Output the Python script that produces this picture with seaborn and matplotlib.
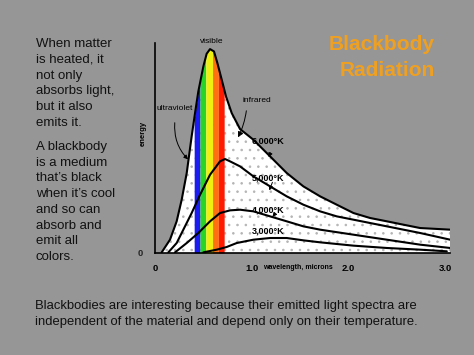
import numpy as np
import pandas as pd
import matplotlib
matplotlib.use("Agg")
import matplotlib.pyplot as plt
import seaborn as sns

# ---------------- data ----------------
temps = ["6,000°K", "5,000°K", "4,000°K", "3,000°K"]

wl_6000 = [0.069, 0.155, 0.224, 0.276, 0.328, 0.379, 0.414, 0.448, 0.500, 0.534, 0.569, 0.610,
           0.645, 0.690, 0.734, 0.793, 0.879, 1.017, 1.190, 1.362, 1.534, 1.707, 1.879, 2.052,
           2.224, 2.397, 2.569, 2.741, 3.052]
en_6000 = [0.013, 0.268, 0.638, 1.074, 1.611, 2.349, 2.819, 3.255, 3.758, 4.013, 4.107, 4.060,
           3.826, 3.490, 3.154, 2.819, 2.497, 2.282, 1.946, 1.611, 1.342, 1.141, 0.973, 0.805,
           0.705, 0.638, 0.570, 0.503, 0.470]

wl_5000 = [0.138, 0.224, 0.293, 0.379, 0.466, 0.569, 0.672, 0.724, 0.776, 0.879, 1.017, 1.190,
           1.362, 1.534, 1.707, 1.879, 2.052, 2.224, 2.397, 2.569, 2.741, 3.052]
en_5000 = [0.013, 0.201, 0.470, 0.805, 1.174, 1.577, 1.846, 1.893, 1.846, 1.745, 1.544, 1.342,
           1.141, 0.973, 0.839, 0.738, 0.671, 0.604, 0.537, 0.470, 0.403, 0.268]

wl_4000 = [0.207, 0.328, 0.448, 0.569, 0.672, 0.776, 0.879, 1.017, 1.190, 1.362, 1.534, 1.707,
           2.052, 2.397, 2.741, 3.052]
en_4000 = [0.013, 0.201, 0.403, 0.638, 0.805, 0.859, 0.872, 0.839, 0.738, 0.638, 0.537, 0.470,
           0.369, 0.268, 0.168, 0.101]

wl_3000 = [0.500, 0.638, 0.741, 0.845, 1.017, 1.190, 1.362, 1.534, 1.707, 2.052, 2.397, 2.741, 3.017]
en_3000 = [0.013, 0.067, 0.121, 0.201, 0.268, 0.302, 0.302, 0.255, 0.215, 0.148, 0.101, 0.067, 0.034]

# visible bands (wavelength edges, colours)
band_edges = [0.405, 0.465, 0.525, 0.595, 0.655, 0.715]
band_colors = ["#1c1cf0", "#28d428", "#f0f010", "#ff7010", "#ff1a00"]

x_ticks = [0, 1, 2, 3]
x_ticklabels = ["0", "1.0", "2.0", "3.0"]

para1 = ["When matter", "is heated, it", "not only", "absorbs light,", "but it also", "emits it."]
para2 = ["A blackbody", "is a medium", "that\u2019s black", "when it\u2019s cool",
         "and so can", "absorb and", "emit all", "colors."]
bottom_lines = ["Blackbodies are interesting because their emitted light spectra are",
                "independent of the material and depend only on their temperature."]

# ---------------- build figure ----------------
sns.set_style("white")
plt.rcParams["font.family"] = ["Liberation Sans", "DejaVu Sans"]
plt.rcParams["hatch.linewidth"] = 0.6
bold = dict(family="Liberation Sans", fontweight="bold")

W, H = 474, 355
fig = plt.figure(figsize=(W / 100, H / 100), dpi=100)
bg = "#969696"
fig.patch.set_facecolor(bg)

ax = fig.add_axes([155 / W, 1 - 253 / H, 295 / W, 210 / H])
ax.set_facecolor("none")

df = pd.concat([
    pd.DataFrame({"wavelength": wl_6000, "energy": en_6000, "temp": temps[0]}),
    pd.DataFrame({"wavelength": wl_5000, "energy": en_5000, "temp": temps[1]}),
    pd.DataFrame({"wavelength": wl_4000, "energy": en_4000, "temp": temps[2]}),
    pd.DataFrame({"wavelength": wl_3000, "energy": en_3000, "temp": temps[3]}),
], ignore_index=True)

# stippled white area under the hottest curve
ax.fill_between(wl_6000, 0, en_6000, facecolor="white", edgecolor="#b4b4b4",
                hatch="..", linewidth=0, zorder=1)

# visible colour bands up to the 6000K curve
for i, c in enumerate(band_colors):
    xs = np.linspace(band_edges[i], band_edges[i + 1], 30)
    ax.fill_between(xs, 0, np.interp(xs, wl_6000, en_6000), color=c, linewidth=0, zorder=2)

sns.lineplot(data=df, x="wavelength", y="energy", hue="temp",
             palette={t: "black" for t in temps}, estimator=None, sort=False,
             legend=False, linewidth=1.5, ax=ax, zorder=3)

ax.set_xlim(0, 3.05)
ax.set_ylim(0, 4.23)
ax.set_xlabel("")
ax.set_ylabel("")
for s in ["top", "right"]:
    ax.spines[s].set_visible(False)
for s in ["left", "bottom"]:
    ax.spines[s].set_color("black")
    ax.spines[s].set_linewidth(1.2)

ax.set_xticks(x_ticks)
ax.set_xticklabels(x_ticklabels, fontsize=6.8, **bold)
ax.set_xticks(np.arange(0, 3.05, 0.1), minor=True)
ax.tick_params(axis="x", which="both", direction="out", length=4, width=1, pad=4, colors="black")
ax.set_yticks([0, 1, 2, 3, 4])
ax.set_yticklabels(["0", "", "", "", ""], fontsize=6.8, **bold)
ax.tick_params(axis="y", which="both", direction="in", length=3, width=1, pad=9)

ax.text(1.12, -0.068, "wavelength, microns", transform=ax.get_xaxis_transform(),
        ha="left", va="center", fontsize=5, color="black", **bold)
ax.text(-0.04, 0.57, "energy", transform=ax.transAxes, rotation=90,
        ha="center", va="center", fontsize=5.5, color="black", **bold)
thin = dict(fontsize=6, color="black", family="Liberation Sans")
ax.text(0.59, 4.27, "visible", ha="center", va="center", clip_on=False, **thin)
ax.text(0.02, 2.91, "ultraviolet", ha="left", va="center", **thin)
ax.text(0.90, 3.07, "infrared", ha="left", va="center", **thin)

ax.annotate("", xy=(0.362, 1.846), xytext=(0.207, 2.68),
            arrowprops=dict(arrowstyle="-|>", color="black", lw=0.7, mutation_scale=6,
                            connectionstyle="arc3,rad=0.25"), zorder=4)
ax.annotate("", xy=(0.845, 2.28), xytext=(0.948, 2.92),
            arrowprops=dict(arrowstyle="-|>", color="black", lw=0.7, mutation_scale=8,
                            connectionstyle="arc3,rad=-0.1"), zorder=4)

label_pos = [(1.0, 2.25), (1.0, 1.51), (1.0, 0.87), (1.0, 0.436)]
for t, (lx, ly) in zip(temps, label_pos):
    ax.text(lx, ly, t, ha="left", va="center", fontsize=6.5, color="black", zorder=5, **bold)
arrows = [((1.207, 2.067), (1.162, 1.879)),
          ((1.224, 1.477), (1.172, 1.208)),
          ((1.252, 0.819), (1.197, 0.685))]
for (sx, sy), (ex, ey) in arrows:
    ax.annotate("", xy=(ex, ey), xytext=(sx, sy),
                arrowprops=dict(arrowstyle="-|>", color="black", lw=0.7, mutation_scale=6),
                zorder=5)

# ---------------- slide text ----------------
title_c = "#f0a020"
fig.text(435 / W, 1 - 45 / H, "Blackbody", ha="right", va="center", fontsize=15,
         fontweight="bold", color=title_c)
fig.text(435 / W, 1 - 70 / H, "Radiation", ha="right", va="center", fontsize=15,
         fontweight="bold", color=title_c)

txt_c = "#111111"
for i, line in enumerate(para1):
    fig.text(36 / W, 1 - (44 + i * 15.8) / H, line, ha="left", va="center",
             fontsize=9.5, color=txt_c)
for i, line in enumerate(para2):
    fig.text(36 / W, 1 - (147 + i * 15.7) / H, line, ha="left", va="center",
             fontsize=9.5, color=txt_c)
for i, line in enumerate(bottom_lines):
    fig.text(35 / W, 1 - (305.5 + i * 17) / H, line, ha="left", va="center",
             fontsize=9.4, color=txt_c)

fig.savefig("out.png", dpi=100, facecolor=bg)
